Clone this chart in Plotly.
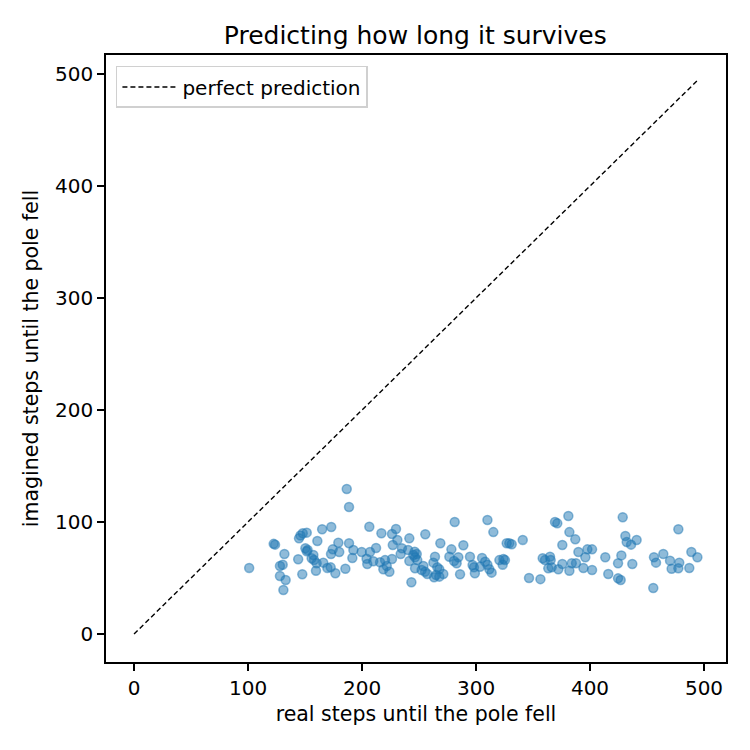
import plotly.graph_objects as go

# real vs imagined steps until the pole fell
real_steps = [
    186.6, 188.6, 122.5, 123.7, 101, 131.9, 128, 130.4, 128, 133, 131,
    144, 147.6, 146, 148, 151.5, 144.7, 165, 173, 160.8, 150.3, 152.3, 151.5,
    157.3, 155.8, 157.9, 160.2, 166, 169.6, 172.5, 176.6, 159.6, 174.3, 172.8,
    179.2, 180, 185.4, 188.6, 192.4, 191.5, 199.7, 206.4, 207, 212.3, 204,
    204.6, 209.9,
    217, 226.3, 229.8, 227, 231, 215.8, 220.2, 221.7, 224, 226.3, 218.7,
    235, 233.9, 240.4, 241.5, 246.2, 248, 245, 246.5, 248.5, 241.5, 246.5,
    253.8, 255.3, 257.3, 252.3, 255.5, 243.3,
    268.7, 278.4, 288.9, 276.6, 284.5, 280.7, 283, 264, 262.6, 266, 265,
    267.8, 271.3, 267.8, 263.2, 286, 294.7, 297, 299, 298.2, 303.5, 305.3,
    308, 310, 311.7, 313.7, 320.5, 324, 325.4, 323.4, 326.9, 329.2, 331.3,
    341, 281.3, 310, 315.2, 346.5, 356.5,
    358.5, 360.5, 364.9, 365.5, 363.4, 366.4, 372.2, 375.7, 375.7, 369.3,
    371.3, 381, 381.9, 387.1, 381.9, 384, 387.7, 389.8, 394.2, 395.9, 397.7,
    401.8, 401.8, 413.4, 416, 424.6, 427.5, 424.6, 426.9, 428.7, 431, 432.2,
    436, 440.9, 437.1, 455.5, 456.1, 457.9, 464.3, 470.2, 471.6, 478.3,
    477.5, 477.5, 487.1, 488.9, 494.2,
]
imagined_steps = [
    129.5, 113.4, 80.5, 79.8, 59, 71.4, 60.7, 61.9, 51.8, 48.2, 39.3,
    66.7, 53.3, 88, 89.9, 90.5, 85.4, 93.5, 95.5, 83, 76.5, 75, 73.8,
    70.5, 67.6, 66.1, 63.1, 63.7, 59, 59.5, 54.2, 56.5, 75.6, 71.4,
    81.5, 73.2, 58.3, 81, 75, 67.9, 73.2, 95.8, 73.2, 76.8, 67.2,
    62.5, 64.9,
    89.9, 89.3, 93.75, 79.5, 84, 64, 66, 60.7, 55.6, 67, 57.8,
    76.5, 71.4, 75, 85.4, 73.5, 71.4, 70.5, 68.5, 66, 65.2, 58.7,
    60.7, 55.6, 53.6, 57.1, 89, 46.2,
    81, 75.6, 79.2, 69, 68.5, 65.2, 63.1, 69, 63.7, 59.5, 52.7,
    57.8, 53.6, 51.2, 50.6, 53.3, 69, 61.6, 54.2, 59.5, 60, 67.9,
    64.6, 61.9, 57.8, 54.8, 66, 67, 66, 61.9, 81, 81, 80.1,
    84, 100, 101.8, 91, 50, 49,
    67.6, 66, 69, 66, 58.6, 59.5, 57.8, 62.5, 79.5, 100,
    98.8, 105.4, 91, 84.5, 56.5, 63.1, 63.1, 73.2, 58.9, 68.5, 75.6,
    75.6, 57.1, 68.5, 53.6, 63.1, 70.2, 49.7, 48.2, 104.2, 87.5, 82.1,
    79.8, 83.9, 62.5, 41.1, 68.5, 63.7, 71.4, 65.5, 58.3, 63.7,
    58.6, 93.5, 58.9, 73.2, 68.5,
]

title = "Predicting how long it survives"
font = "DejaVu Sans"

fig = go.Figure()

# diagonal reference line
top = max(real_steps)
fig.add_trace(go.Scatter(
    x=[0, top], y=[0, top],
    mode="lines",
    line=dict(color="black", width=1.4, dash="5px,3px"),
    name="perfect prediction",
    showlegend=True,
))

fig.add_trace(go.Scatter(
    x=real_steps, y=imagined_steps,
    mode="markers",
    marker=dict(size=9, color="rgba(31,119,180,0.5)",
                line=dict(color="rgba(31,119,180,0.5)", width=1.5)),
    showlegend=False,
))

axis_style = dict(
    showgrid=False, zeroline=False,
    showline=True, linecolor="black", linewidth=1.6, mirror=True,
    ticks="outside", ticklen=7, tickwidth=1.6, tickcolor="black",
    tickfont=dict(size=20, color="black"),
    title_font=dict(size=20.5, color="black"),
)

# the page has an 8px body margin, so margins are shifted by that
fig.update_layout(
    width=750, height=750,
    plot_bgcolor="white", paper_bgcolor="white",
    font=dict(family=font, color="black"),
    title=dict(text=title, x=0.543, xanchor="center", y=0.964, yanchor="middle",
               font=dict(size=25, color="black")),
    margin=dict(l=98, r=32, t=47, b=96),
    showlegend=True,
    legend=dict(x=0.016, y=0.982, xanchor="left", yanchor="top",
                bordercolor="#d0d0d0", borderwidth=1.5, bgcolor="white",
                itemwidth=55, tracegroupgap=0,
                font=dict(size=20)),
)
fig.update_xaxes(range=[-24.6, 519.3], tickvals=[0, 100, 200, 300, 400, 500],
                 title_text="real steps until the pole fell", title_standoff=8, **axis_style)
fig.update_yaxes(range=[-25, 517], tickvals=[0, 100, 200, 300, 400, 500],
                 title_text="imagined steps until the pole fell", title_standoff=11, **axis_style)

fig.write_html("out.html")
